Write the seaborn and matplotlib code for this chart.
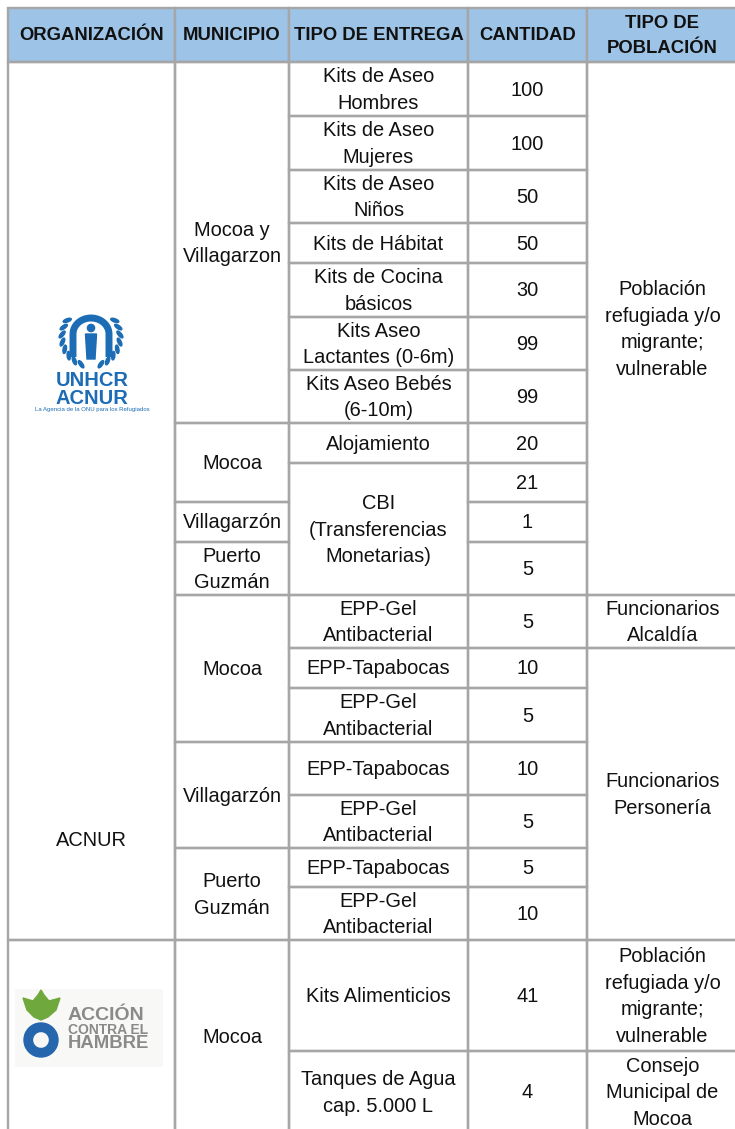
import matplotlib
matplotlib.use("Agg")
import matplotlib.pyplot as plt
import seaborn as sns
import numpy as np
from matplotlib.patches import Rectangle, Ellipse, Circle, Polygon, Wedge

# ---------------- data ----------------
headers = ["ORGANIZACIÓN", "MUNICIPIO", "TIPO DE ENTREGA", "CANTIDAD", "TIPO DE\nPOBLACIÓN"]

organizaciones = [(0, 18, "ACNUR"), (18, 20, "")]

municipios = [(0, 7, "Mocoa y\nVillagarzon"), (7, 9, "Mocoa"), (9, 10, "Villagarzón"),
              (10, 11, "Puerto\nGuzmán"), (11, 14, "Mocoa"), (14, 16, "Villagarzón"),
              (16, 18, "Puerto\nGuzmán"), (18, 20, "Mocoa")]

entregas = [(0, 1, "Kits de Aseo\nHombres"), (1, 2, "Kits de Aseo\nMujeres"),
            (2, 3, "Kits de Aseo\nNiños"), (3, 4, "Kits de Hábitat"),
            (4, 5, "Kits de Cocina\nbásicos"), (5, 6, "Kits Aseo\nLactantes (0-6m)"),
            (6, 7, "Kits Aseo Bebés\n(6-10m)"), (7, 8, "Alojamiento"),
            (8, 11, "CBI\n(Transferencias\nMonetarias)"),
            (11, 12, "EPP-Gel\nAntibacterial"), (12, 13, "EPP-Tapabocas"),
            (13, 14, "EPP-Gel\nAntibacterial"), (14, 15, "EPP-Tapabocas"),
            (15, 16, "EPP-Gel\nAntibacterial"), (16, 17, "EPP-Tapabocas"),
            (17, 18, "EPP-Gel\nAntibacterial"), (18, 19, "Kits Alimenticios"),
            (19, 20, "Tanques de Agua\ncap. 5.000 L")]

cantidades = [100, 100, 50, 50, 30, 99, 99, 20, 21, 1, 5, 5, 10, 5, 10, 5, 5, 10, 41, 4]

poblaciones = [(0, 11, "Población\nrefugiada y/o\nmigrante;\nvulnerable"),
               (11, 12, "Funcionarios\nAlcaldía"),
               (12, 18, "Funcionarios\nPersonería"),
               (18, 19, "Población\nrefugiada y/o\nmigrante;\nvulnerable"),
               (19, 20, "Consejo\nMunicipal de\nMocoa")]

# ---------------- layout ----------------
col_x = [8, 175, 289, 468, 587, 738]
header_top, header_bot = 8, 62
row_h = [54, 54, 53, 40, 54, 53, 53, 40, 39, 40, 53, 53, 40, 54, 53, 53, 39, 53, 111, 82]
row_y = np.concatenate([[header_bot], header_bot + np.cumsum(row_h)])

GRID = "#A6A6A6"
HEAD = "#9DC3E6"
TXT = "#111111"
LW = 1.7
FS = 14.4
LS = 1.5

sns.set_theme(style="white")
plt.rcParams['font.family'] = ['Liberation Sans', 'DejaVu Sans']

fig = plt.figure(figsize=(7.35, 11.29), dpi=100)
ax = fig.add_axes([0, 0, 1, 1])
ax.set_xlim(0, 735)
ax.set_ylim(1129, 0)
ax.axis('off')


def box(x0, x1, y0, y1, fc="none"):
    ax.add_patch(Rectangle((x0, y0), x1 - x0, y1 - y0, facecolor=fc,
                           edgecolor=GRID, lw=LW, zorder=2))


# header
for i, h in enumerate(headers):
    box(col_x[i], col_x[i + 1], header_top, header_bot, fc=HEAD)
    ax.text((col_x[i] + col_x[i + 1]) / 2, (header_top + header_bot) / 2 + 1, h,
            ha='center', va='center', fontsize=13.3, fontweight='bold', color=TXT,
            linespacing=1.62, zorder=3)


def column(ci, spans, show=True):
    for r0, r1, t in spans:
        y0, y1 = row_y[r0], row_y[r1]
        box(col_x[ci], col_x[ci + 1], y0, y1)
        if show and t:
            ax.text((col_x[ci] + col_x[ci + 1]) / 2, (y0 + y1) / 2 + 1, t,
                    ha='center', va='center', fontsize=FS, color=TXT,
                    linespacing=LS, zorder=3)


column(0, organizaciones, show=False)
column(1, municipios)
column(2, entregas)
column(3, [(i, i + 1, str(v)) for i, v in enumerate(cantidades)])
column(4, poblaciones)

# ACNUR label
ax.text(91, 840, organizaciones[0][2], ha='center', va='center', fontsize=FS,
        color=TXT, zorder=3)

# ---------------- UNHCR logo (approximation) ----------------
BLUE = "#1C6DB5"
cx, cy, r = 91, 337, 29
for s in (-1, 1):
    for th in np.linspace(20, 125, 8):
        t = np.deg2rad(th)
        x = cx + s * r * np.sin(t)
        y = cy + r * np.cos(t)
        ang = -th - 35 if s > 0 else th + 35
        ax.add_patch(Ellipse((x, y), 8.5, 3.3, angle=ang, color=BLUE, zorder=3))
# arch (hands)
phi = np.linspace(0, np.pi, 40)
ax_x = np.concatenate([[109], 91 + 18 * np.cos(phi), [73]])
ax_y = np.concatenate([[357], 334 - 16 * np.sin(phi), [357]])
ax.plot(ax_x, ax_y, color=BLUE, lw=5, solid_capstyle='butt', zorder=3)
# person
ax.add_patch(Circle((91, 328), 3.6, color=BLUE, zorder=3))
ax.add_patch(Polygon([(85.5, 334), (96.5, 334), (95, 359), (87, 359)], color=BLUE, zorder=3))
ax.text(92, 381, "UNHCR", ha='center', va='center', fontsize=14.5, fontweight='bold',
        color=BLUE, zorder=3)
ax.text(92, 398, "ACNUR", ha='center', va='center', fontsize=14.5, fontweight='bold',
        color=BLUE, zorder=3)
ax.text(92, 410, "La Agencia de la ONU para los Refugiados", ha='center', va='center',
        fontsize=4.3, color=BLUE, zorder=3)

# ---------------- Acción contra el Hambre logo (approximation) ----------------
ax.add_patch(Rectangle((15, 989), 148, 78, facecolor="#F8F8F6", edgecolor="none", zorder=1))
GREEN = "#6FA83C"
ax.add_patch(Polygon([(23, 998), (33, 1001), (38, 995), (41, 990), (44, 995), (49, 1001),
                      (60, 998), (56, 1010), (48, 1017), (41, 1020), (34, 1017), (27, 1010)],
                     color=GREEN, zorder=3))
ax.add_patch(Wedge((41, 1040), 17, 0, 360, width=8.5, color="#2666AD", zorder=3))
GRAY = "#8A8A8A"
ax.text(68, 1015, "ACCIÓN", ha='left', va='center', fontsize=14, fontweight='bold',
        color=GRAY, zorder=3)
ax.text(68, 1030, "CONTRA EL", ha='left', va='center', fontsize=10, fontweight='bold',
        color=GRAY, zorder=3)
ax.text(68, 1044, "HAMBRE", ha='left', va='center', fontsize=13.3, fontweight='bold',
        color=GRAY, zorder=3)

fig.savefig("out.png", dpi=100, facecolor="white")
